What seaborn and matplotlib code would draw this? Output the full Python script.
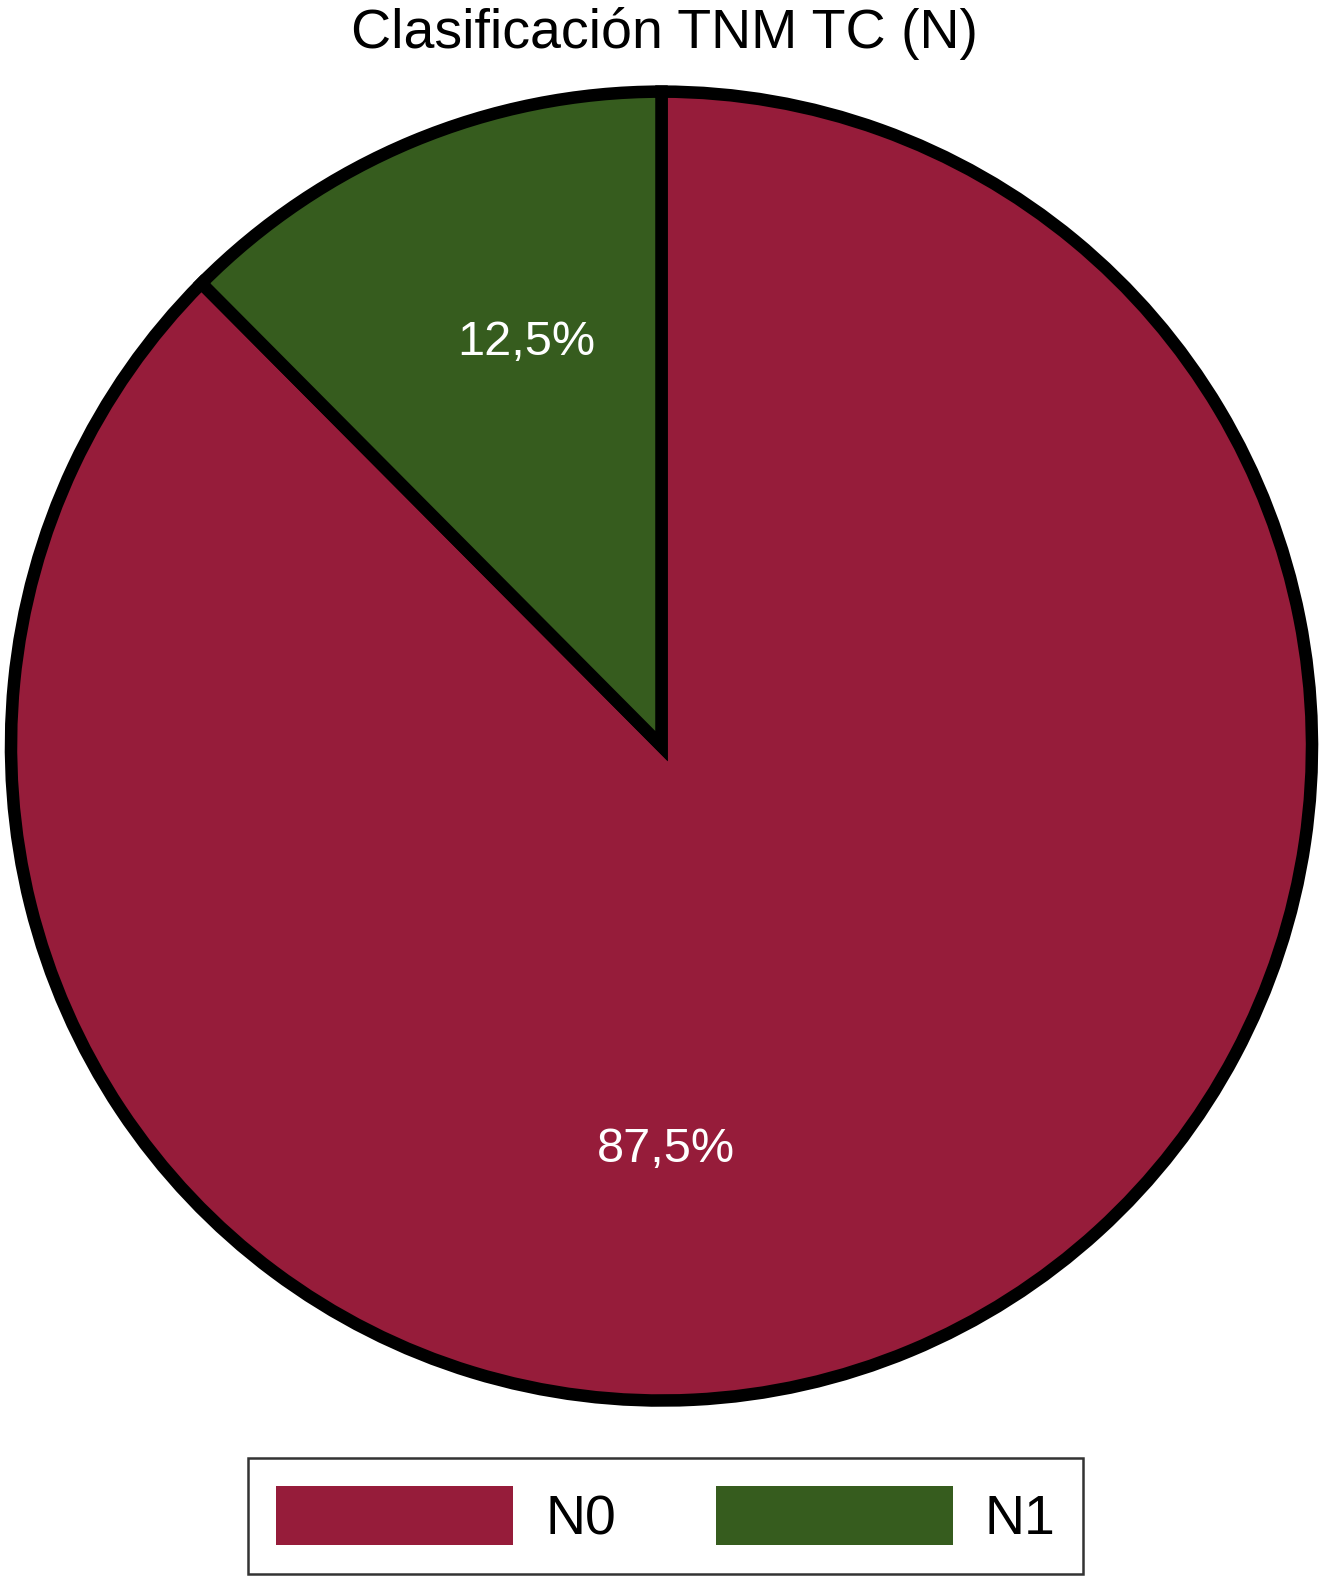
import matplotlib
matplotlib.use("Agg")
import matplotlib.pyplot as plt
import seaborn as sns
import numpy as np

categories = ["N0", "N1"]
values = [87.5, 12.5]
pct_labels = ["87,5%", "12,5%"]
colors = ["#961C3A", "#365C1E"]
title = "Clasificación TNM TC (N)"

sns.set_theme(style="white")
plt.rcParams['font.family'] = ['Liberation Sans', 'DejaVu Sans']
plt.rcParams['text.color'] = 'black'
plt.rcParams['legend.labelcolor'] = 'black'

fig = plt.figure(figsize=(13.33, 15.77), dpi=100)
ax = fig.add_axes([0.00825, 0.1119, 0.976, 0.830])

wedges, _ = ax.pie(values, colors=colors, startangle=135, counterclock=True,
                   wedgeprops=dict(edgecolor="black", linewidth=9),
                   radius=1.0)
ax.set_aspect('auto')
ax.set_xlim(-1.0, 1.0)
ax.set_ylim(-1.0, 1.0)

# label placement (radius, angle in degrees)
label_pos = {"87,5%": (0.616, 270.65), "12,5%": (0.65, 108.6)}
for lab in pct_labels:
    r, ang = label_pos[lab]
    x = r * np.cos(np.deg2rad(ang))
    y = r * np.sin(np.deg2rad(ang))
    ax.text(x, y, lab, ha='center', va='center', color='white', fontsize=35)

fig.text(0.4985, 0.979, title, ha='center', va='center', fontsize=40, color='black')

leg = fig.legend(wedges, categories, loc='center', bbox_to_anchor=(0.4996, 0.0387),
                 ncol=2, fontsize=40, frameon=True, fancybox=False,
                 handlelength=4.26, handleheight=1.255, handletextpad=0.58,
                 columnspacing=1.8, borderpad=0.5, labelcolor='black')
frame = leg.get_frame()
frame.set_edgecolor('black')
frame.set_linewidth(1.8)
for h in leg.legend_handles:
    h.set_edgecolor('none')
    h.set_linewidth(0)

fig.savefig("out.png", dpi=100, facecolor='white')
